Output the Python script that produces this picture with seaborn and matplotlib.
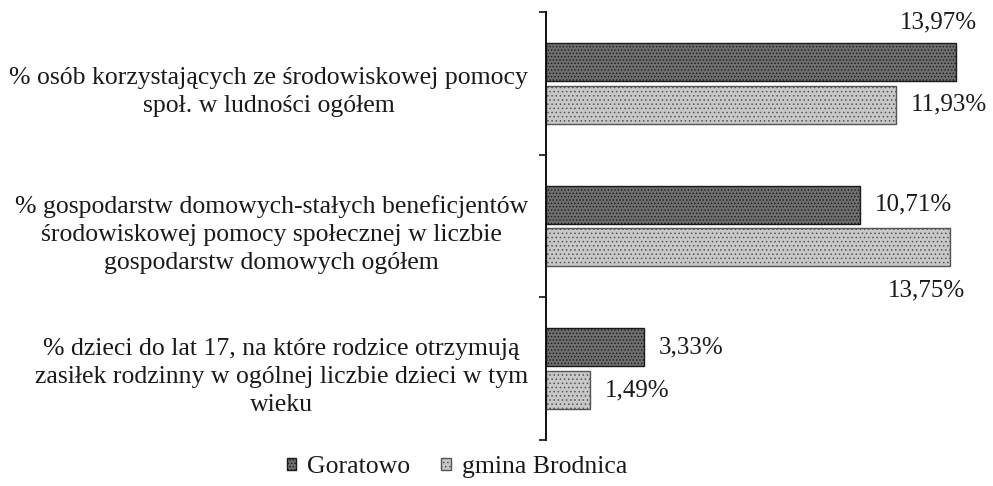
import matplotlib
matplotlib.use("Agg")
import matplotlib.pyplot as plt
import matplotlib.transforms as mtransforms
import seaborn as sns
import pandas as pd

categories = [
    "% osób korzystających ze środowiskowej pomocy\nspoł. w ludności ogółem",
    "% gospodarstw domowych-stałych beneficjentów\nśrodowiskowej pomocy społecznej w liczbie\ngospodarstw domowych ogółem",
    "% dzieci do lat 17, na które rodzice otrzymują\nzasiłek rodzinny w ogólnej liczbie dzieci w tym\nwieku",
]
series_names = ["Goratowo", "gmina Brodnica"]
goratowo = [13.97, 10.71, 3.33]
gmina = [11.93, 13.75, 1.49]

label_pos_goratowo = ["above", "right", "right"]
label_pos_gmina = ["right", "below", "right"]

sns.set_theme(style="white")
plt.rcParams["font.family"] = ["Liberation Serif", "DejaVu Serif"]
plt.rcParams["hatch.linewidth"] = 0.6

df = pd.DataFrame({
    "category": categories * 2,
    "value": goratowo + gmina,
    "series": [series_names[0]] * 3 + [series_names[1]] * 3,
})

W, H = 993, 486
fig = plt.figure(figsize=(W / 100, H / 100), dpi=100)
px_per_unit = 29.35
xmax = 15.0
ax = fig.add_axes([546 / W, 1 - 440 / H, xmax * px_per_unit / W, (440 - 12) / H])

colors = ["#6e6e6e", "#c8c8c8"]
sns.barplot(data=df, y="category", x="value", hue="series", orient="h",
            palette=colors, width=0.6, gap=0.11, ax=ax, legend=True)

styles = [dict(edgecolor="#1a1a1a", hatch="....."), dict(edgecolor="#555555", hatch="....")]
for cont, st in zip(ax.containers, styles):
    for p in cont.patches:
        p.set_edgecolor(st["edgecolor"])
        p.set_hatch(st["hatch"])
        p.set_linewidth(1.0)

ax.set_xlim(0, xmax)
ax.set_ylim(2.5, -0.5)
ax.set_xlabel("")
ax.set_ylabel("")
ax.set_xticks([])
for s in ["top", "right", "bottom"]:
    ax.spines[s].set_visible(False)
ax.spines["left"].set_color("#111111")
ax.spines["left"].set_linewidth(1.4)

ax.set_yticks(range(len(categories)))
ax.set_yticklabels(categories, fontsize=18.5, color="#1a1a1a", multialignment="center",
                   linespacing=1.36)
ax.set_yticks([-0.5, 0.5, 1.5, 2.5], minor=True)
ax.tick_params(axis="y", which="major", length=0, pad=13)
ax.tick_params(axis="y", which="minor", length=5, width=1.2, direction="out", color="#111111", left=True)
shift = mtransforms.ScaledTranslation(0, -3 / 100, fig.dpi_scale_trans)
for lbl in ax.get_yticklabels():
    lbl.set_transform(lbl.get_transform() + shift)

def fmt(v):
    return f"{v:.2f}".replace(".", ",") + "%"

for cont, positions in zip(ax.containers, [label_pos_goratowo, label_pos_gmina]):
    for p, pos in zip(cont.patches, positions):
        v = p.get_width()
        yc = p.get_y() + p.get_height() / 2
        if pos == "right":
            off, ha = (15, 0), "left"
        elif pos == "above":
            off, ha = (21, 39), "right"
        else:
            off, ha = (16, -43), "right"
        ax.annotate(fmt(v), xy=(v, yc), xytext=off, textcoords="offset pixels",
                    ha=ha, va="center", fontsize=18, color="#1a1a1a")

handles, labels = ax.get_legend_handles_labels()
ax.legend_.remove()
for h, st in zip(handles, styles):
    h.set_edgecolor(st["edgecolor"])
    h.set_hatch(st["hatch"])
fig.legend(handles, labels, loc="center", bbox_to_anchor=(457 / W, 1 - 467 / H),
           ncol=2, frameon=False, fontsize=18.5, handlelength=0.36, handleheight=0.36,
           handletextpad=0.45, columnspacing=1.2, labelcolor="#1a1a1a")

fig.savefig("out.png", dpi=100, facecolor="white")
